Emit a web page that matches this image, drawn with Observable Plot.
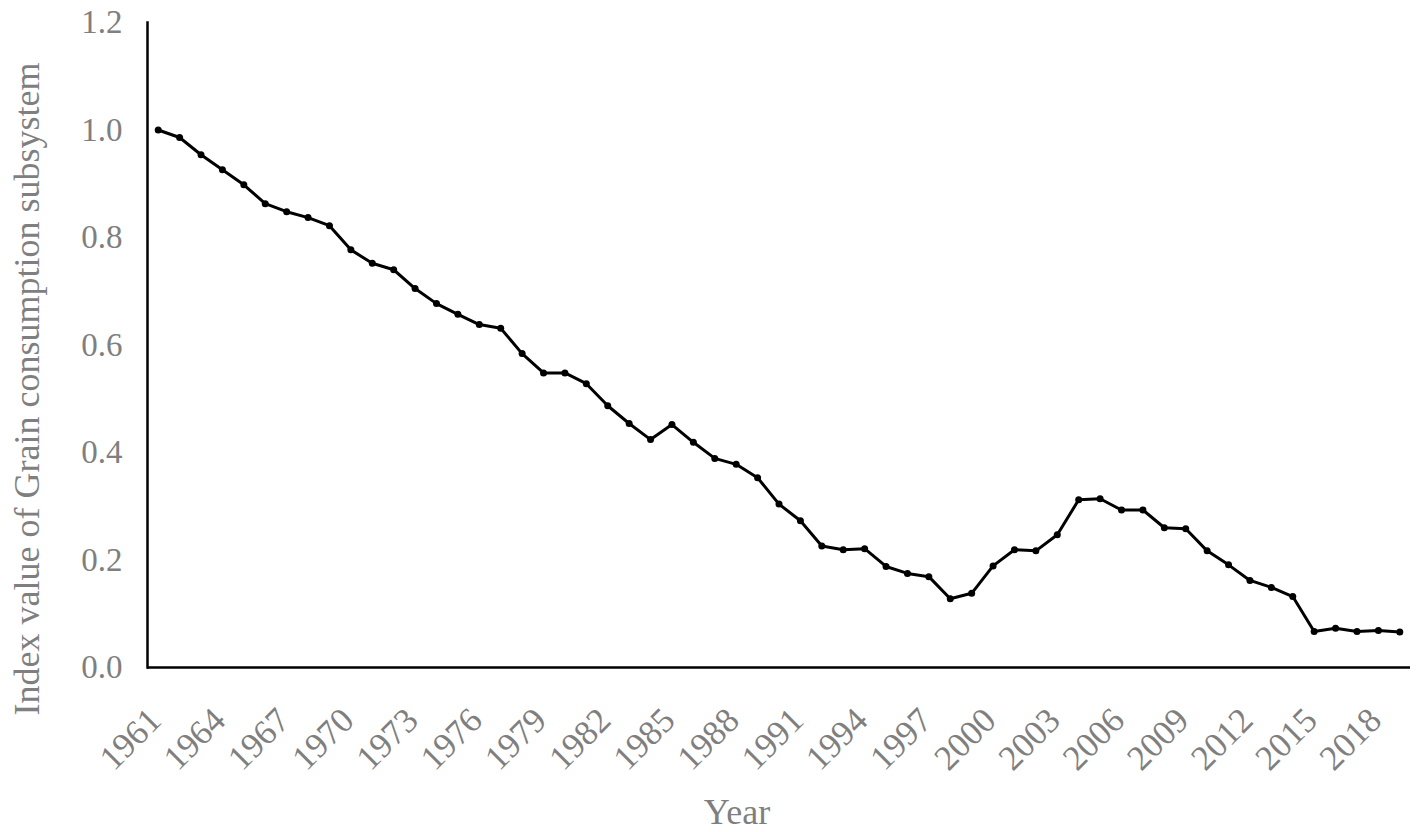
<!DOCTYPE html>
<html><head><meta charset="utf-8">
<script src="https://cdn.jsdelivr.net/npm/d3@7"></script>
<script src="https://cdn.jsdelivr.net/npm/@observablehq/plot@0.6"></script>
<style>body{margin:0;background:#fff;overflow:hidden}</style>
</head><body><div id="chart"></div>
<script>
const years = [1961,1962,1963,1964,1965,1966,1967,1968,1969,1970,
  1971,1972,1973,1974,1975,1976,1977,1978,1979,1980,
  1981,1982,1983,1984,1985,1986,1987,1988,1989,1990,
  1991,1992,1993,1994,1995,1996,1997,1998,1999,2000,
  2001,2002,2003,2004,2005,2006,2007,2008,2009,2010,
  2011,2012,2013,2014,2015,2016,2017,2018,2019];
const values = [1.000,0.986,0.954,0.926,0.898,0.863,0.848,0.837,0.822,0.777,
  0.752,0.740,0.705,0.677,0.657,0.638,0.631,0.584,0.548,0.548,
  0.528,0.487,0.454,0.424,0.452,0.419,0.389,0.378,0.353,0.304,
  0.273,0.226,0.219,0.221,0.188,0.175,0.169,0.128,0.138,0.189,
  0.219,0.217,0.247,0.312,0.314,0.293,0.293,0.260,0.258,0.217,
  0.191,0.162,0.149,0.132,0.067,0.073,0.067,0.069,0.066];
const xTickYears = [1961,1964,1967,1970,1973,1976,1979,1982,1985,1988,
  1991,1994,1997,2000,2003,2006,2009,2012,2015,2018];
const yTicks = [0,0.2,0.4,0.6,0.8,1.0,1.2];
const xTitle = "Year";
const yTitle = "Index value of Grain consumption subsystem";

const data = years.map((year, i) => ({year, value: values[i]}));
const gray = "#7f7f7f";

const chart = Plot.plot({
  width: 1417, height: 832,
  marginLeft: 147, marginRight: 7, marginTop: 22, marginBottom: 165,
  style: {fontFamily: "'Liberation Serif', 'Times New Roman', serif", background: "#fff", overflow: "visible"},
  x: {type: "linear", domain: [years[0] - 0.5, years[years.length - 1] + 0.5]},
  y: {domain: [0, 1.2]},
  marks: [
    Plot.axisY(yTicks, {tickSize: 0, tickPadding: 25, fontSize: 33, fill: gray, tickFormat: d => d.toFixed(1), label: null}),
    Plot.axisX(xTickYears, {tickSize: 0, tickRotate: -45, tickPadding: 47, dx: -3, fontSize: 35, fill: gray, tickFormat: d => String(d), label: null}),
    Plot.frame({anchor: "left", stroke: "black", strokeWidth: 2.5}),
    Plot.ruleY([0], {stroke: "black", strokeWidth: 2.5}),
    Plot.line(data, {x: "year", y: "value", stroke: "black", strokeWidth: 3}),
    Plot.dot(data, {x: "year", y: "value", r: 3.5, fill: "black"}),
    Plot.text([xTitle], {frameAnchor: "bottom", lineAnchor: "middle", dx: -42, dy: 145, fontSize: 36, fill: gray}),
    Plot.text([yTitle], {frameAnchor: "left", textAnchor: "middle", lineAnchor: "middle", dx: -120, dy: 44, rotate: -90, fontSize: 36, fill: gray})
  ]
});
document.getElementById("chart").append(chart);
</script>
</body></html>
